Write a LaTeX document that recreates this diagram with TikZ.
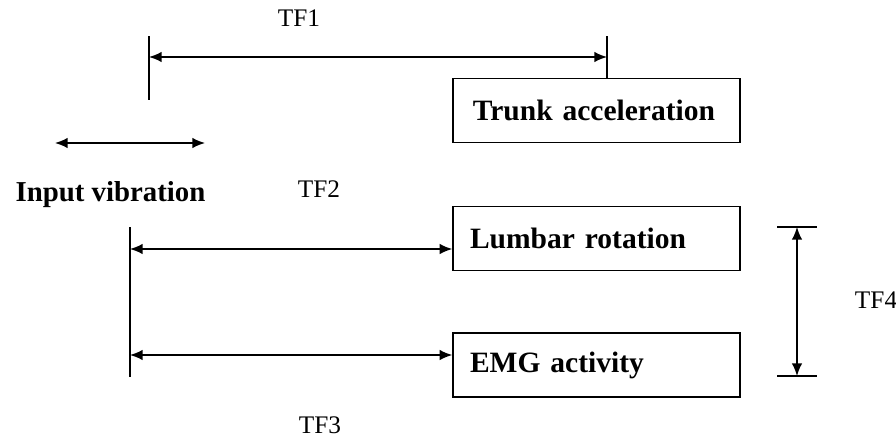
\documentclass[tikz,border=0pt]{standalone}
\usepackage{fontspec}
\setmainfont{Liberation Serif}
\usetikzlibrary{arrows.meta}
\tikzset{
  tip/.style={{Latex[length=9pt,width=7.5pt]}-{Latex[length=9pt,width=7.5pt]}, line width=1.1pt},
  bar/.style={line width=1.1pt},
  box/.style={draw, line width=1pt, minimum width=287*0.025cm, minimum height=64*0.025cm,
    text width=253*0.025cm, align=left, inner xsep=17*0.025cm, inner ysep=0pt,
    font=\fontsize{21}{24}\selectfont\bfseries},
  tf/.style={font=\fontsize{18}{21}\selectfont},
}
\begin{document}
\begin{tikzpicture}[x=0.025cm, y=-0.025cm]
        \useasboundingbox (0,0) rectangle (896,442);
        % boxes
        \node[box] (trunk) at (596.5,110.5) {\hspace*{2pt}Trunk acceleration};
        \node[box] (lumbar) at (596.5,238.5) {Lumbar rotation};
        \node[box] (emg) at (596.5,365) {EMG activity};
        % input
        \node[font=\fontsize{20.5}{24}\selectfont\bfseries] (input) at (110.5,195) {Input vibration};
        \coordinate (inl) at (55,143);
        \coordinate (inr) at (205,143);
        \draw[tip] (inl) -- (inr);
        % TF1
        \coordinate (tfa) at (149,36);
        \coordinate (tfb) at (149,100);
        \coordinate (tfc) at (607,36);
        \coordinate (tf1l) at (149,57);
        \coordinate (tf1r) at (607,57);
        \draw[bar] (tfa) -- (tfb);
        \draw[bar] (tfc) -- (tfc |- trunk.north);
        \draw[tip] (tf1l) -- (tf1r);
        \node[tf] (tf1) at (299,18) {TF1};
        % TF2 / TF3
        \coordinate (bart) at (130,227);
        \coordinate (barb) at (130,377);
        \coordinate (l1) at (130,249);
        \coordinate (l2) at (130,355);
        \draw[bar] (bart) -- (barb);
        \draw[tip] (l1) -- (lumbar.west |- l1);
        \draw[tip] (l2) -- (emg.west |- l2);
        \node[tf] (tf2) at (319,189) {TF2};
        \node[tf] (tf3) at (320,425) {TF3};
        % TF4
        \coordinate (r1) at (797,227);
        \coordinate (r2) at (797,376);
        \draw[bar] ([xshift=-20*0.025cm]r1) -- ([xshift=20*0.025cm]r1);
        \draw[bar] ([xshift=-20*0.025cm]r2) -- ([xshift=20*0.025cm]r2);
        \draw[tip] (r1) -- (r2);
        \node[tf, anchor=west] (tf4) at (850,300) {TF4};
\end{tikzpicture}
\end{document}
